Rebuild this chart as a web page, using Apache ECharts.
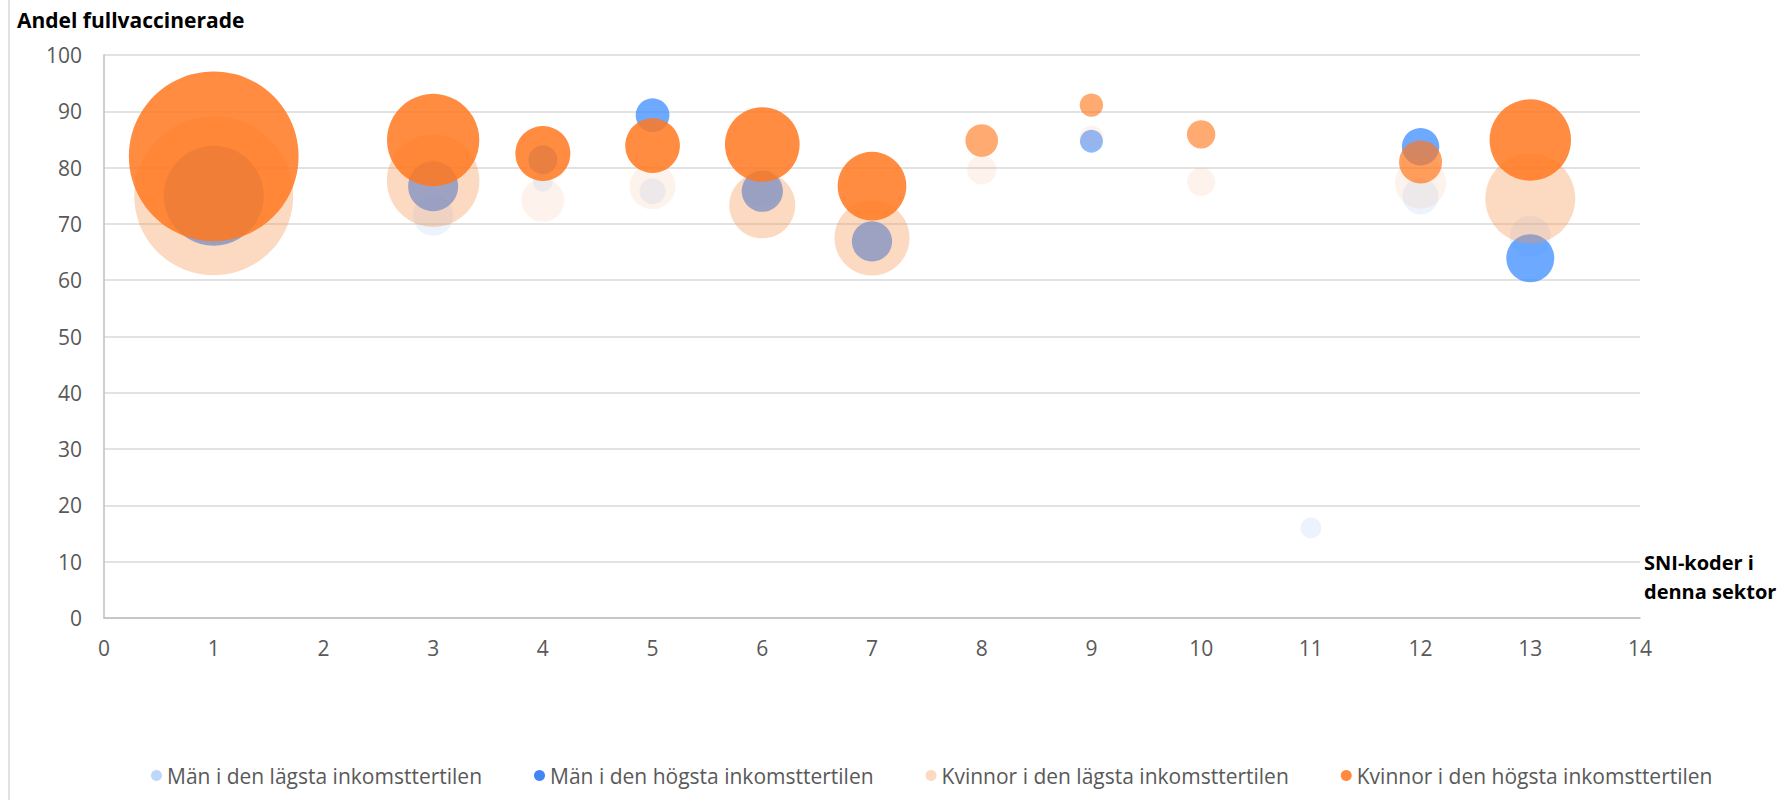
<!DOCTYPE html>
<html>

<head>
    <meta charset="utf-8">
    <title>Andel fullvaccinerade</title>
    <script src="https://cdn.jsdelivr.net/npm/echarts@6/dist/echarts.min.js"></script>
    <style>
        body { margin: 0; background: #fff; }
    </style>
</head>

<body>
    <div id="main" style="width: 1789px;height:804px;"></div>
    <script type="text/javascript">
        // SNI-kod, andel fullvaccinerade, bubbelstorlek (yta)
        var mlSni = [1, 3, 4, 5, 6, 11, 12, 13];
        var mlShare = [72.9, 71.5, 77.5, 75.8, 76.5, 16.0, 74.9, 67.8];
        var mlSize = [57.8, 16.4, 4.0, 6.8, 16.0, 4.4, 13.0, 16.8];

        var mhSni = [1, 3, 4, 5, 6, 7, 9, 12, 13];
        var mhShare = [75.0, 76.7, 81.4, 89.3, 75.8, 66.9, 84.7, 83.7, 63.9];
        var mhSize = [100, 25, 8.4, 11.4, 17, 16.2, 5.3, 14, 23];

        var klSni = [1, 3, 4, 5, 6, 7, 8, 9, 10, 12, 13];
        var klShare = [75.0, 77.7, 74.2, 76.7, 73.3, 67.5, 79.6, 85.3, 77.5, 77.3, 74.5];
        var klSize = [252.8, 85.9, 18.5, 21.2, 43.6, 56.3, 8.6, 5.8, 8.0, 26.3, 81.0];

        var khSni = [1, 3, 4, 5, 6, 7, 8, 9, 10, 12, 13];
        var khShare = [82.0, 84.9, 82.5, 83.9, 84.1, 76.7, 84.8, 91.1, 85.9, 81.0, 84.9];
        var khSize = [288, 85.2, 30.3, 29.9, 55.8, 47.2, 10.6, 5.5, 8.1, 18.5, 66.4];

        var seriesNames = [
            'Män i den lägsta inkomsttertilen',
            'Män i den högsta inkomsttertilen',
            'Kvinnor i den lägsta inkomsttertilen',
            'Kvinnor i den högsta inkomsttertilen'
        ];

        // genomskinlighet per bubbla (som i originalet)
        var mlAlpha = [0.14, 0.14, 0.14, 0.14, 0.14, 0.14, 0.14, 0.14];
        var mhAlpha = [0.75, 0.75, 0.75, 0.75, 0.75, 0.75, 0.6, 0.75, 0.75];
        var klAlpha = [0.35, 0.35, 0.11, 0.11, 0.35, 0.35, 0.11, 0.11, 0.11, 0.11, 0.35];
        var khAlpha = [0.85, 0.85, 0.85, 0.85, 0.85, 0.85, 0.63, 0.63, 0.63, 0.7, 0.85];

        var bubbleColors = ['rgb(120,170,240)', 'rgb(60,140,255)', 'rgb(245,150,80)', 'rgb(255,120,30)'];
        var legendColors = ['#bdd7f8', '#4285f4', '#fdd9c0', '#ff8a3d'];

        var font = '"Open Sans", Lato, sans-serif';

        function points(sni, share, size, alpha) {
            return sni.map(function (x, i) {
                return {
                    value: [x, share[i], size[i]],
                    itemStyle: { opacity: alpha[i] }
                };
            });
        }

        function bubble(idx, data) {
            return {
                name: seriesNames[idx],
                type: 'scatter',
                data: data,
                symbolSize: function (v) { return Math.sqrt(v[2]) * 10; },
                itemStyle: { color: bubbleColors[idx] },
                emphasis: { disabled: true },
                silent: true
            };
        }

        var myChart = echarts.init(document.getElementById('main'), null, { renderer: 'svg' });
        var option = {
            animation: false,
            textStyle: { fontFamily: font },
            title: {
                text: 'Andel fullvaccinerade',
                left: 12,
                top: 4,
                textStyle: { fontFamily: font, fontWeight: 'bold', fontSize: 21, color: '#000' }
            },
            grid: { left: 104, right: 149, top: 55, bottom: 186 },
            legend: {
                left: 146,
                top: 760,
                icon: 'circle',
                itemWidth: 11,
                itemHeight: 11,
                itemGap: 52,
                textStyle: { fontFamily: font, fontSize: 21, color: '#595959' },
                data: seriesNames.map(function (n, i) {
                    return { name: n, itemStyle: { color: legendColors[i], opacity: 1 } };
                })
            },
            xAxis: {
                type: 'value',
                min: 0,
                max: 14,
                interval: 1,
                name: 'SNI-koder i\ndenna sektor',
                nameLocation: 'end',
                nameGap: 4,
                nameTextStyle: {
                    fontFamily: font, fontWeight: 'bold', fontSize: 20, color: '#000',
                    align: 'left', verticalAlign: 'bottom', lineHeight: 29, padding: [0, 0, 12, 0]
                },
                axisLine: { lineStyle: { color: '#bfbfbf', width: 1.5 } },
                axisTick: { show: false },
                splitLine: { show: false },
                axisLabel: { fontSize: 21, color: '#595959', margin: 19 }
            },
            yAxis: {
                type: 'value',
                min: 0,
                max: 100,
                interval: 10,
                axisLine: { show: true, lineStyle: { color: '#bfbfbf', width: 1.5 } },
                axisTick: { show: false },
                splitLine: { lineStyle: { color: '#d9d9d9', width: 1.5 } },
                axisLabel: { fontSize: 21, color: '#595959', margin: 22 }
            },
            graphic: [{
                type: 'line',
                shape: { x1: 9, y1: 0, x2: 9, y2: 800 },
                style: { stroke: '#d9d9d9', lineWidth: 1.5 },
                silent: true
            }],
            series: [
                bubble(0, points(mlSni, mlShare, mlSize, mlAlpha)),
                bubble(1, points(mhSni, mhShare, mhSize, mhAlpha)),
                bubble(2, points(klSni, klShare, klSize, klAlpha)),
                bubble(3, points(khSni, khShare, khSize, khAlpha))
            ]
        };
        myChart.setOption(option);
    </script>
</body>

</html>
